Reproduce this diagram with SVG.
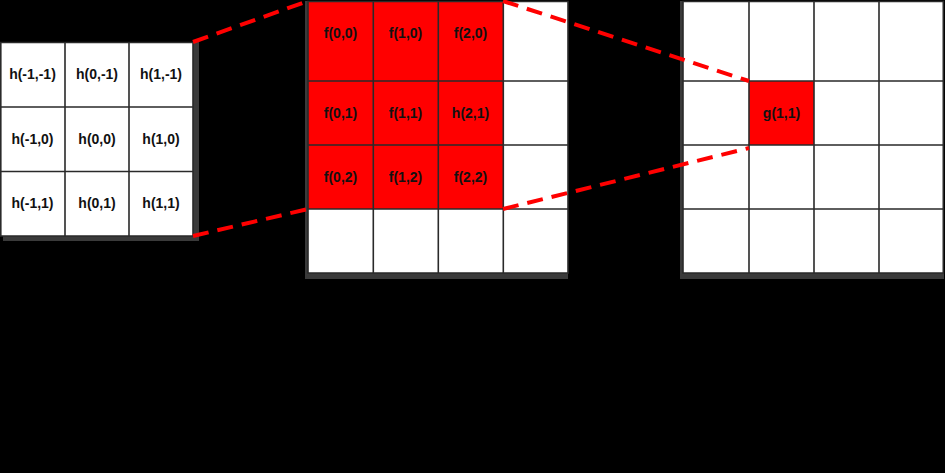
<svg xmlns="http://www.w3.org/2000/svg" width="945" height="473" viewBox="0 0 945 473">
<style>
.bg{fill:#000}
.sh{fill:#3a3a3a}
.w{fill:#fff}
.r{fill:#ff0000}
.g{stroke:#2a2a2a;stroke-width:1.6;fill:none}
.t{font-family:"Liberation Sans",Arial,sans-serif;font-weight:bold;font-size:14px;fill:#111;text-anchor:middle;dominant-baseline:central}
.d{stroke:#ff0000;stroke-width:4;stroke-dasharray:16 9;fill:none}
</style>
<rect class="bg" x="0" y="0" width="945" height="473"/>
<g id="kernel">
<rect class="sh" x="3" y="42" width="196" height="199"/>
<rect class="w" x="0" y="42" width="193" height="194"/>
<path class="g" d="M0.8 42.5H193V236H0.8Z M65 42.5V236 M129 42.5V236 M0.8 107H193 M0.8 171.5H193"/>
<text class="t" x="32.5" y="74">h(-1,-1)</text>
<text class="t" x="97" y="74">h(0,-1)</text>
<text class="t" x="161" y="74">h(1,-1)</text>
<text class="t" x="32.5" y="139">h(-1,0)</text>
<text class="t" x="97" y="139">h(0,0)</text>
<text class="t" x="161" y="139">h(1,0)</text>
<text class="t" x="32.5" y="203">h(-1,1)</text>
<text class="t" x="97" y="203">h(0,1)</text>
<text class="t" x="161" y="203">h(1,1)</text>
</g>
<g id="input">
<rect class="sh" x="305" y="1" width="263" height="278"/>
<rect class="w" x="308" y="1" width="260" height="272"/>
<rect class="r" x="308" y="1" width="195" height="208"/>
<path class="g" d="M308 1.5H568V273H308Z M373.3 1.5V273 M438.3 1.5V273 M503.3 1.5V273 M308 81H568 M308 145H568 M308 209H568"/>
<text class="t" x="340.5" y="33">f(0,0)</text>
<text class="t" x="405.5" y="33">f(1,0)</text>
<text class="t" x="470.5" y="33">f(2,0)</text>
<text class="t" x="340.5" y="113">f(0,1)</text>
<text class="t" x="405.5" y="113">f(1,1)</text>
<text class="t" x="470.5" y="113">h(2,1)</text>
<text class="t" x="340.5" y="177">f(0,2)</text>
<text class="t" x="405.5" y="177">f(1,2)</text>
<text class="t" x="470.5" y="177">f(2,2)</text>
</g>
<g id="output">
<rect class="sh" x="680" y="1" width="264" height="278"/>
<rect class="w" x="683" y="1" width="260" height="272"/>
<rect class="r" x="749" y="81" width="65" height="64"/>
<path class="g" d="M683 1.5H943.3V273H683Z M749 1.5V273 M814 1.5V273 M879 1.5V273 M683 81H943.3 M683 145H943.3 M683 209H943.3"/>
<text class="t" x="781.5" y="113">g(1,1)</text>
</g>
<g id="connectors">
<path class="d" d="M193 42L308 1"/>
<path class="d" d="M193 236L308 209"/>
<path class="d" d="M503 1L749 81"/>
<path class="d" d="M503 209L749 148"/>
</g>
</svg>
